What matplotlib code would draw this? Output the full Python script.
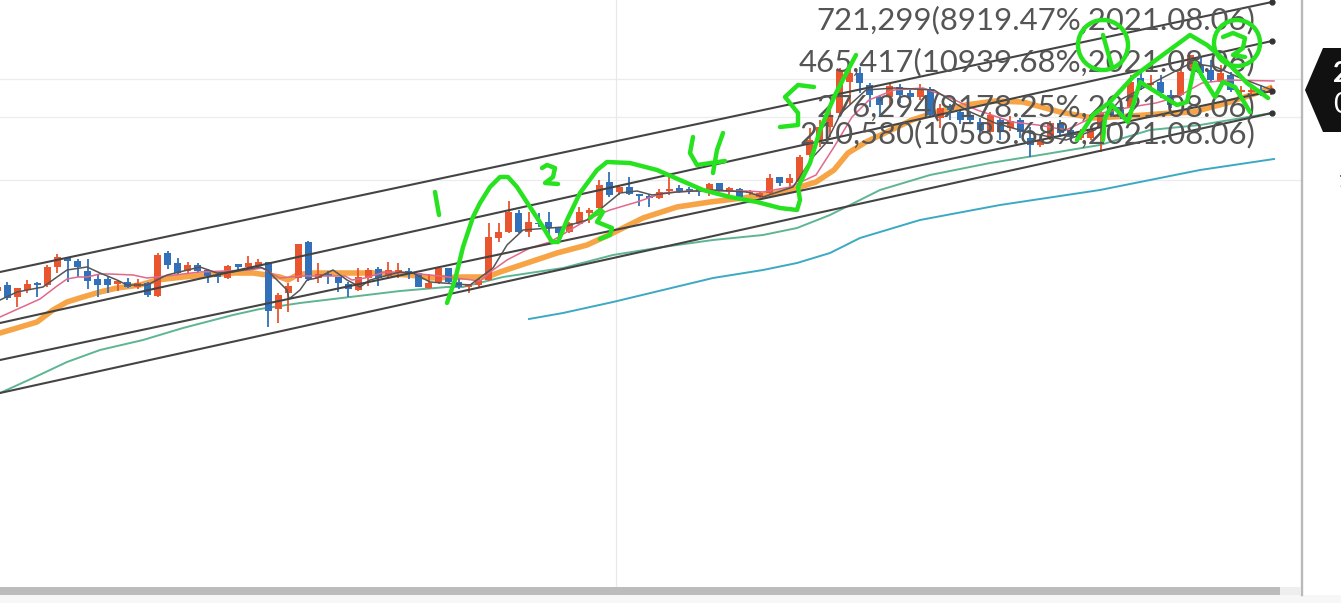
import matplotlib
matplotlib.use("Agg")
import matplotlib.pyplot as plt
from matplotlib.patches import Ellipse, Polygon, Rectangle

W, H = 1341, 603

# candles, index -1 .. 126
candle_colors = list(
    "R"                       # -1
    "BRRBRRBBBB" "BRBRBRBBRB"  # 0-19
    "BBRBRRBRRR" "BRBBBRRBRR"  # 20-39
    "BBRRB"                    # 40-44
    "BRRRRRBRBB" "BRRRRBRBBB"  # 45-64
    "RRBBBRBRBR" "RRBRRRRRRR"  # 65-84
    "BBBRBBRBRB" "BBBRBRBBRR"  # 85-104
    "BBRRRBBRBR" "BBRRBBRBRR"  # 105-124
    "BR"                       # 125-126
)
body_top = [286.7,
    285, 288.3, 284, 282.7, 266.7, 257.3, 258.3, 261, 270.7, 279.3,
    279.3, 280.7, 281.7, 283.3, 282.7, 254.7, 253.3, 262.7, 265, 265,
    270, 275, 266, 264.3, 262.7, 261.7, 262.3, 295, 286, 244.3,
    242.3, 274, 274.3, 277.3, 284, 276.7, 270, 269.3, 270, 270,
    270.7, 273.3, 283.3, 268.3, 268,
    281.7, 285, 280, 236.7, 231.7, 211.7, 212.7, 221.7, 222.7, 221.7,
    228.3, 222.7, 211.7, 210, 185, 181.7, 186.7, 186.7, 194, 196,
    191.7, 189.3, 188.3, 189.3, 189.3, 184, 183.3, 188.3, 189.3, 191.7,
    192.7, 177.7, 177.3, 177.7, 157, 140, 127, 116, 70, 73,
    73, 85, 97, 86, 87, 93, 88, 89, 108, 107,
    112, 115, 122, 115, 120, 121, 120, 138, 140, 123,
    123, 130, 132, 130, 113, 105, 107, 82, 78, 83,
    82, 95, 72, 55, 65, 70, 73, 75, 90, 90,
    90, 90]
body_bottom = [291,
    298.3, 296.7, 290, 285, 285, 266.7, 260.7, 267.3, 280.7, 285,
    285, 284, 287.3, 287.3, 295, 296, 265, 272.7, 270.7, 270.7,
    276, 277.3, 278.3, 267.3, 267.3, 266, 310.7, 309.3, 292.7, 278.3,
    279.3, 278.3, 275.7, 282.7, 289.3, 290, 278.3, 278.3, 276, 273.3,
    272.7, 286.7, 288.3, 281.7, 281.7,
    287.3, 286.7, 285, 280, 238.3, 231.7, 231.7, 231.7, 224, 228.3,
    233.3, 231.7, 224, 213.3, 208.3, 195, 191.7, 194, 195.7, 198.3,
    197.7, 190.7, 191.7, 190.7, 191.7, 193.3, 190, 191.7, 196.7, 193.3,
    196.7, 193.3, 182.7, 182.7, 182, 155, 140, 127, 113, 82,
    83, 95, 105, 97, 95, 97, 97, 115, 118, 110,
    120, 120, 130, 132, 132, 128, 132, 145, 145, 138,
    133, 137, 138, 138, 128, 115, 117, 107, 87, 85,
    93, 105, 95, 67, 73, 80, 82, 90, 92, 92,
    95, 93]
wick_top = [285,
    281.7, 288.3, 280, 281.7, 265, 254, 257.3, 259.3, 259.3, 274,
    277.3, 280, 278.3, 279.3, 281.7, 252.7, 251.3, 258.3, 261.7, 263.3,
    269.3, 273.3, 265, 264.3, 256, 259.3, 262.3, 292.7, 282.7, 244.3,
    240.7, 263.3, 270.7, 276.7, 281.7, 268.3, 268.3, 267.3, 261.7, 263.3,
    268.3, 272.7, 274.3, 268.3, 268,
    278.3, 284, 278.3, 223.3, 222.7, 200.7, 210, 211.7, 213.3, 211.7,
    226.7, 221.7, 206.7, 208.3, 180, 171.7, 186, 177.3, 194, 194,
    189.3, 173.3, 185, 186.7, 187.3, 183.3, 182.7, 187.3, 188.3, 190,
    191.7, 174, 177.3, 174, 155, 128, 120, 110, 68, 66,
    67, 83, 95, 84, 84, 90, 84, 87, 104, 104,
    110, 112, 118, 112, 118, 116, 118, 127, 138, 121,
    120, 127, 129, 126, 107, 103, 105, 75, 72, 75,
    75, 90, 68, 55, 57, 60, 65, 72, 86, 88,
    85, 86]
wick_bottom = [293,
    300, 306.7, 293.3, 296.7, 287.3, 272.7, 281.7, 276.7, 289.3, 296.7,
    293.3, 290.7, 288.3, 289.3, 297.3, 296.7, 269.3, 275, 272.7, 272.7,
    282.7, 282.7, 279.3, 270, 269.3, 268.3, 326.7, 323.3, 311.7, 281.7,
    280.7, 282.7, 284, 291.7, 297.3, 290.7, 286, 286, 278.3, 278.3,
    279.3, 287.3, 289.3, 284, 284,
    289.3, 292.7, 286.7, 280.7, 241.7, 232.7, 232.7, 236.7, 226.7, 236.7,
    238, 233.3, 225, 223, 210, 197.3, 195, 195, 206, 206.7,
    199.3, 195, 193.3, 194, 196, 196, 191.7, 195, 198.3, 195,
    198.3, 194, 186, 186.7, 184, 157, 147, 137, 115, 105,
    93, 107, 115, 107, 103, 103, 100, 117, 128, 120,
    124, 122, 135, 135, 140, 131, 138, 157, 147, 140,
    137, 140, 140, 140, 152, 117, 119, 108, 90, 87,
    98, 108, 96, 70, 78, 82, 84, 92, 95, 94,
    96, 95]

# moving averages
ma_dark_x = [0, 17, 43, 57, 67, 87, 100, 117, 127, 147, 167, 200, 217, 233, 260, 267, 287, 289, 300, 307,
             317, 333, 347, 360, 370, 400, 413, 430, 470, 493, 507, 523, 563, 587, 603, 620, 637, 652, 677,
             713, 747, 763, 793, 813, 826, 841, 866, 894, 934, 966, 995, 1030, 1066, 1095, 1120, 1191, 1216, 1238, 1272]
ma_dark_y = [300, 292, 287, 277, 270, 267, 273, 280, 285, 285, 275, 267, 273, 272, 267, 270, 290, 299, 290, 280,
             278, 270, 280, 287, 280, 272, 273, 282, 285, 268, 245, 230, 227, 220, 207, 193, 191, 195, 192,
             190, 192, 197, 187, 157, 143, 113, 90, 88, 90, 110, 123, 133, 140, 130, 100, 63, 67, 77, 90]
ma_pink_x = [0, 20, 40, 57, 67, 78, 87, 100, 110, 133, 147, 157, 200, 250, 262, 280, 300, 330, 345, 352, 365,
             385, 410, 440, 480, 493, 507, 530, 550, 570, 590, 610, 637, 663, 690, 717, 747, 763, 790, 816,
             834, 852, 869, 894, 923, 948, 977, 1012, 1038, 1066, 1102, 1131, 1156, 1177, 1202, 1227, 1274]
ma_pink_y = [317, 308, 299, 286, 279, 277, 277, 274, 274, 275, 278, 277, 272, 270, 268, 278, 276, 276, 276, 280, 278,
             272, 273, 276, 281, 270, 260, 248, 242, 230, 218, 210, 202, 193, 191, 191, 191, 192, 187, 175,
             147, 117, 100, 90, 88, 97, 110, 122, 125, 130, 113, 107, 103, 97, 83, 80, 81]
ma_orange_x = [0, 17, 37, 53, 67, 83, 100, 117, 140, 157, 183, 207, 233, 253, 267, 280, 288, 297, 310, 333, 373,
               410, 430, 463, 487, 500, 530, 557, 587, 613, 643, 677, 710, 743, 777, 797, 816, 834, 848, 866,
               887, 912, 937, 966, 995, 1023, 1060, 1093, 1130, 1173, 1193, 1227, 1260, 1270]
ma_orange_y = [333, 328, 322, 310, 302, 297, 292, 288, 285, 280, 277, 275, 273, 273, 275, 277, 280, 275, 273, 273, 273,
               275, 278, 277, 277, 272, 262, 253, 245, 233, 218, 207, 202, 198, 193, 188, 182, 170, 153, 142,
               132, 120, 112, 105, 101, 102, 112, 118, 116, 113, 112, 103, 92, 88]
ma_green_x = [0, 33, 67, 100, 143, 183, 233, 260, 300, 350, 400, 447, 463, 503, 563, 613, 663, 713, 763, 797, 830,
              862, 880, 930, 990, 1040, 1100, 1150, 1200, 1272]
ma_green_y = [393, 378, 362, 350, 340, 328, 315, 309, 303, 297, 291, 287, 287, 277, 268, 255, 247, 240, 235, 228, 215,
              199, 190, 175, 163, 155, 145, 130, 125, 113]
ma_teal_x = [529, 563, 613, 663, 713, 763, 797, 830, 860, 920, 1000, 1100, 1200, 1274]
ma_teal_y = [319, 313, 302, 290, 278, 270, 263, 253, 238, 220, 205, 190, 170, 159]

# channel lines, left end and right end
channel_y0 = [272, 323, 360, 393]
channel_y1 = [2, 41, 91, 113]
channel_x1 = 1272

# price labels
label_texts = ["721,299(8919.47%,2021.08.06)", "465,417(10939.68%,2021.08.06)",
               "276,294(9178.25%,2021.08.06)", "210,580(10585.68%,2021.08.06)"]
label_y = [20, 62, 107, 134]

# hand drawn strokes
strokes = [
    ([447, 455, 463, 473, 480, 490, 500, 508, 517, 530, 543, 552, 558, 567, 580, 597, 607, 630, 657, 680, 703, 730,
      757, 780, 797, 800, 798, 810, 820, 835, 848, 856],
     [303, 280, 247, 217, 203, 187, 177, 177, 187, 207, 227, 242, 242, 220, 193, 170, 162, 163, 170, 180, 190, 197,
      202, 208, 210, 200, 187, 163, 130, 95, 70, 55]),
    ([435, 439], [192, 215]),
    ([542, 547, 555, 553, 545, 558], [168, 165, 168, 177, 183, 184]),
    ([590, 600, 603, 597, 612, 610, 600], [218, 210, 212, 222, 228, 235, 239]),
    ([693, 690, 697, 725], [137, 153, 165, 161]),
    ([723, 717, 713], [133, 150, 173]),
    ([814, 798, 785, 798, 798, 780], [87, 85, 97, 113, 125, 127]),
    ([1077, 1093, 1110, 1133, 1160, 1190, 1207, 1227, 1247, 1268], [140, 115, 102, 77, 57, 35, 45, 62, 83, 98]),
    ([1103, 1105, 1112, 1128, 1140, 1177, 1187, 1195, 1203, 1215, 1223, 1235, 1250],
     [140, 118, 105, 122, 82, 105, 102, 63, 78, 97, 82, 87, 112]),
    ([1103, 1112], [35, 67]),
    ([1223, 1233, 1245, 1243, 1233, 1245], [37, 33, 38, 48, 55, 57]),
]

GREEN = "#26e21f"

fig = plt.figure(figsize=(W / 100, H / 100), dpi=100)
ax = fig.add_axes([0, 0, 1, 1])
ax.set_xlim(0, W)
ax.set_ylim(H, 0)
ax.axis("off")

# grid and frame
for gy in [79, 117, 180]:
    ax.plot([0, 1302], [gy, gy], color="#ececec", lw=0.9, zorder=1)
ax.plot([616, 616], [0, H], color="#e8e8e8", lw=0.9, zorder=1)
ax.plot([1302, 1302], [0, 595], color="#b9b9b9", lw=1.7, zorder=6)
ax.add_patch(Rectangle((0, 595), W, 8, color="#f7f7f7", lw=0, zorder=5))
ax.add_patch(Rectangle((0, 587), 1280, 8, color="#bcbcbc", lw=0, zorder=6))
ax.add_patch(Rectangle((1280, 587), 21, 8, color="#eeeeee", lw=0, zorder=6))

# candles
candle_x = [-2.7 + 10.03 * i for i in range(len(candle_colors))]
for x, c, t, b, wt, wb in zip(candle_x, candle_colors, body_top, body_bottom, wick_top, wick_bottom):
    col = "#e9552e" if c == "R" else "#3271b9"
    ax.plot([x, x], [wt, wb], color=col, lw=1.3, zorder=3, solid_capstyle="butt")
    ax.bar(x, b - t, bottom=t, width=7, color=col, lw=0, zorder=3)

# moving averages
ax.plot(ma_teal_x, ma_teal_y, color="#3ba9c4", lw=1.4, zorder=2)
ax.plot(ma_green_x, ma_green_y, color="#5db592", lw=1.4, zorder=2)
ax.plot(ma_orange_x, ma_orange_y, color="#f6a445", lw=4, zorder=2, solid_joinstyle="round")
ax.plot(ma_pink_x, ma_pink_y, color="#e0688a", lw=1.1, zorder=4)
ax.plot(ma_dark_x, ma_dark_y, color="#555555", lw=1.1, zorder=4)

# channel
for y0, y1 in zip(channel_y0, channel_y1):
    ax.plot([0, channel_x1], [y0, y1], color="#444444", lw=1.5, zorder=5)
    ax.plot([channel_x1], [y1], "o", color="#333333", ms=3.5, zorder=5)

for txt, ty in zip(label_texts, label_y):
    ax.text(1255, ty, txt, family="Lato", fontsize=22.4, color="#555555", ha="right", va="center", zorder=7)

# price tag cut off by the right edge
ax.add_patch(Polygon([(1305, 90), (1323, 48), (1345, 48), (1345, 132), (1323, 132)], closed=True,
                     color="#111111", lw=0, zorder=6))
ax.text(1333, 74, "2", color="white", fontsize=20, fontweight="bold", family="Lato", va="center", zorder=7)
ax.text(1333, 105, "0", color="white", fontsize=20, family="Lato", va="center", zorder=7)
ax.text(1337, 181, "1", color="#333333", fontsize=16, family="Lato", va="center", zorder=7)

# hand drawing on top
for sx, sy in strokes:
    ax.plot(sx, sy, color=GREEN, lw=3.2, zorder=8, solid_capstyle="round", solid_joinstyle="round")
ax.add_patch(Ellipse((1103, 45), 50, 50, fill=False, edgecolor=GREEN, lw=3.2, zorder=8))
ax.add_patch(Ellipse((1237, 43), 46, 46, fill=False, edgecolor=GREEN, lw=3.2, zorder=8))

fig.savefig("out.png", dpi=100)
